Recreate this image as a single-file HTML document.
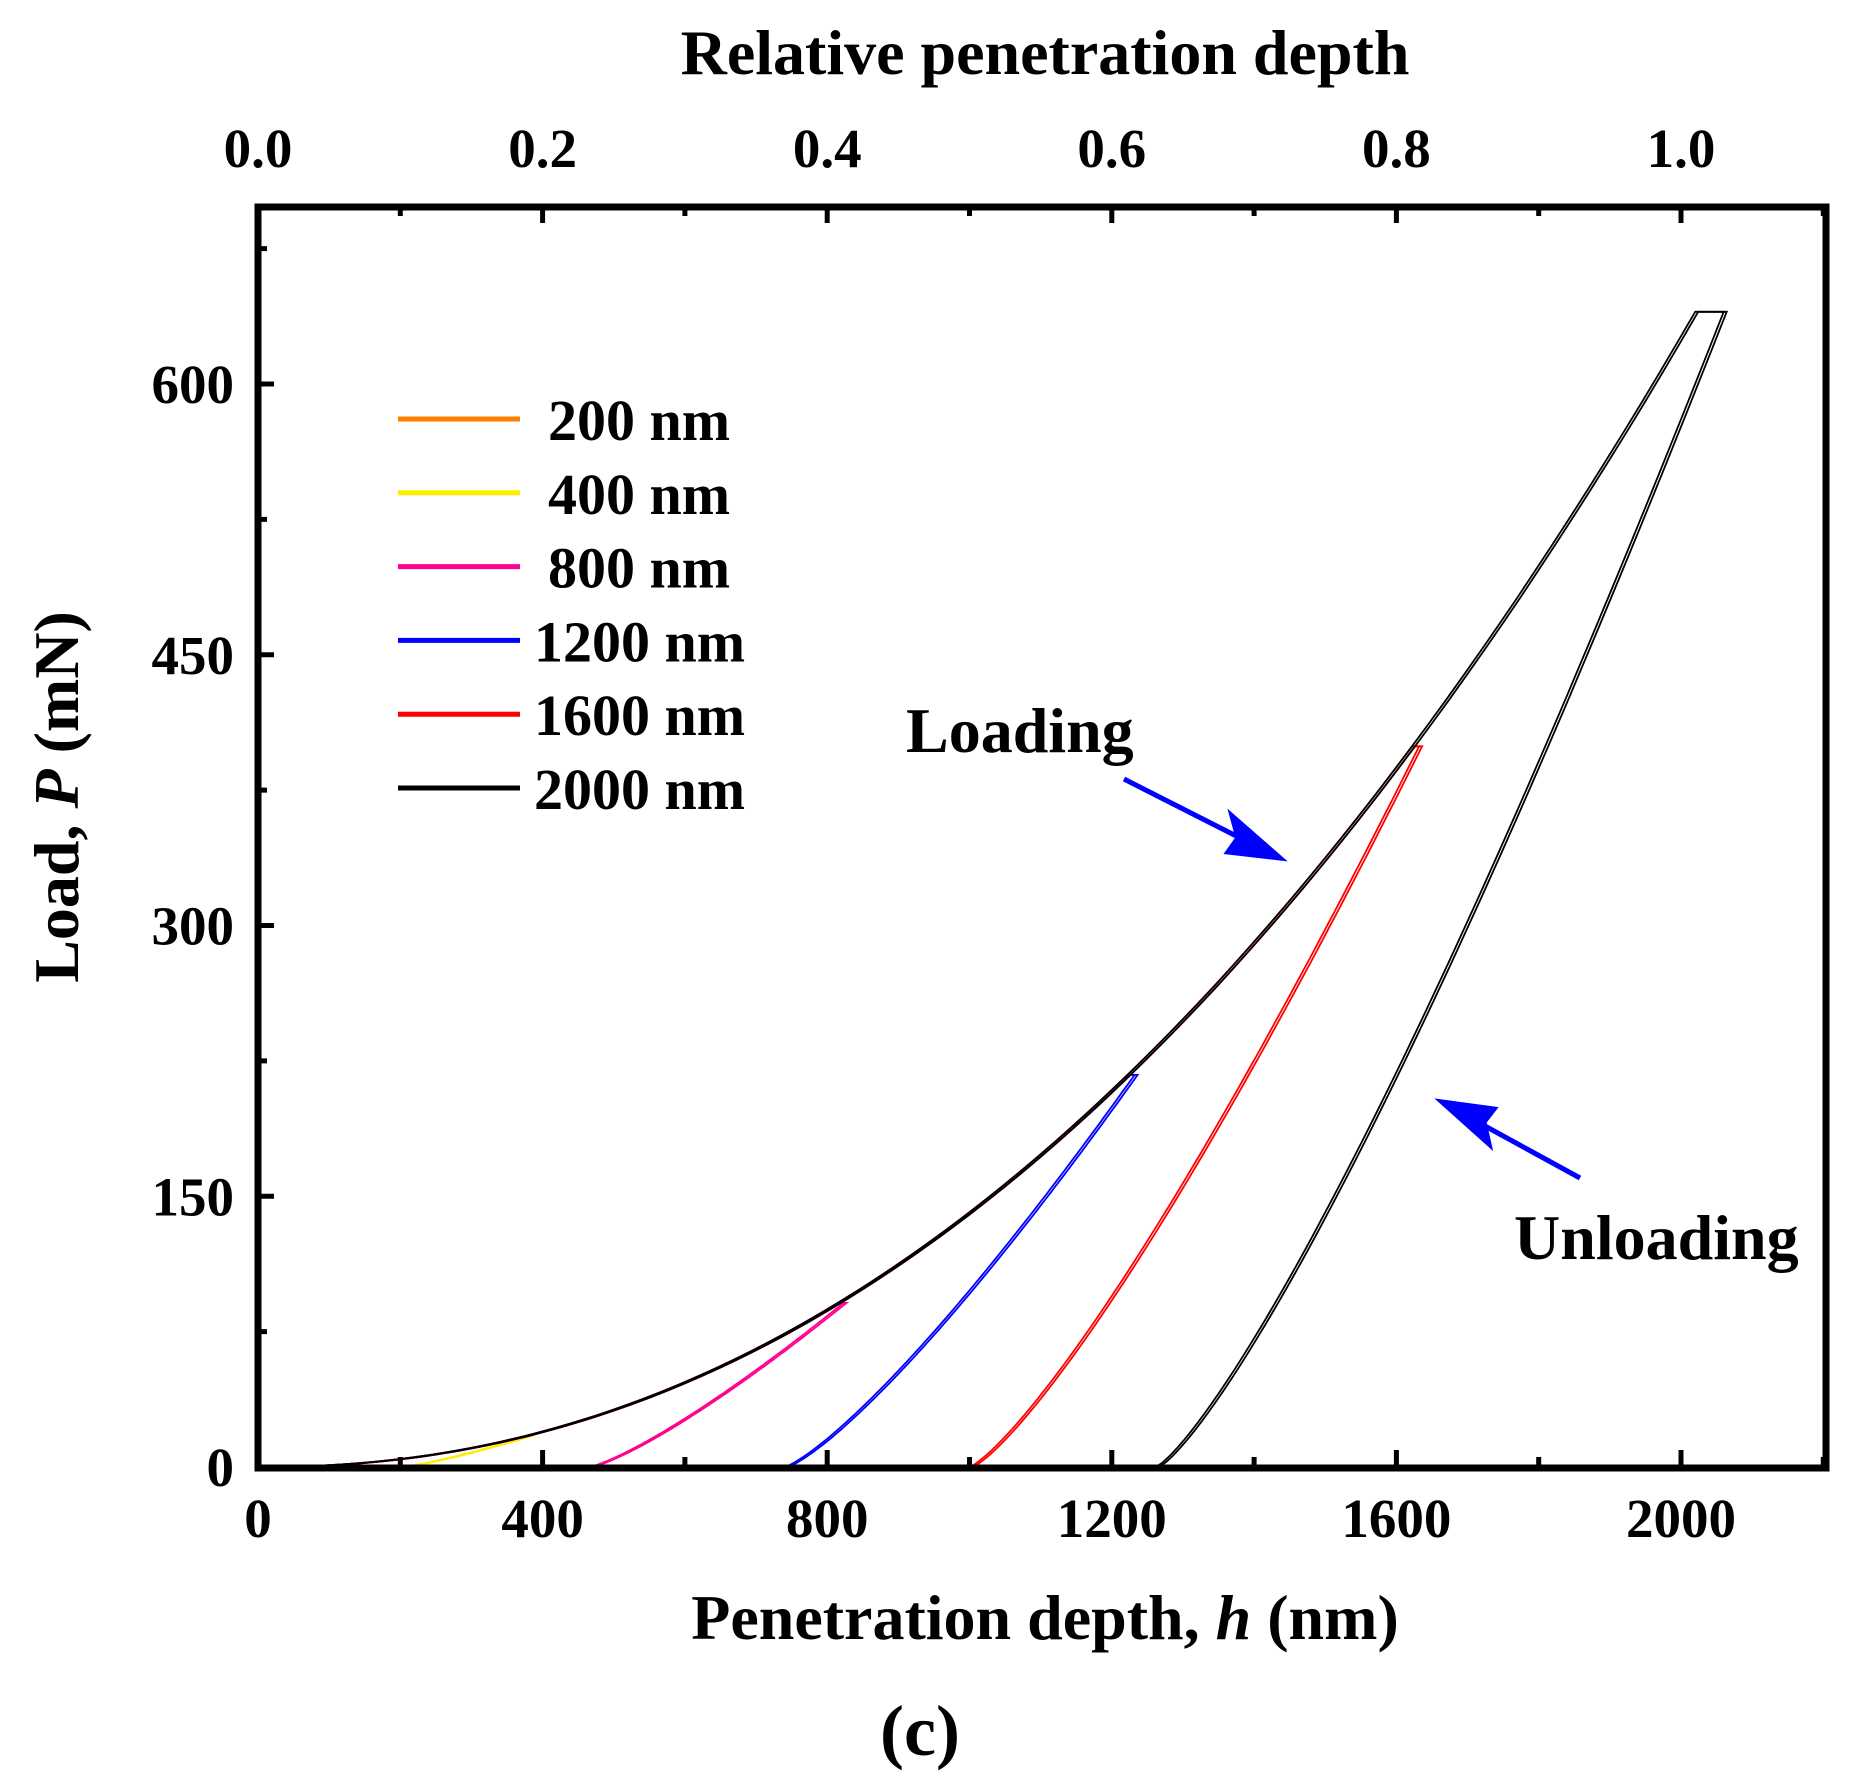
<!DOCTYPE html>
<html><head><meta charset="utf-8"><style>
body{margin:0;background:#fff}
text{font-family:"Liberation Serif",serif;font-weight:bold;fill:#000}
</style></head><body>
<svg id="s" width="1862" height="1778" viewBox="0 0 1862 1778" xmlns="http://www.w3.org/2000/svg">
<rect width="1862" height="1778" fill="#fff"/>
<g id="curves" fill="none" stroke-width="1.8"></g>
<rect x="258" y="207" width="1568" height="1261" fill="none" stroke="#000" stroke-width="7"/>
<g id="ticks" stroke="#000" stroke-width="5"></g>
<g id="labels" font-size="55"></g>
<text x="1045" y="74" font-size="64" text-anchor="middle">Relative penetration depth</text>
<text x="1045" y="1639" font-size="64" text-anchor="middle">Penetration depth, <tspan font-style="italic">h</tspan> (nm)</text>
<text transform="translate(78,797) rotate(-90)" font-size="64" text-anchor="middle">Load, <tspan font-style="italic">P</tspan> (mN)</text>
<text x="920" y="1755" font-size="72" text-anchor="middle">(c)</text>
<text x="906" y="752" font-size="64">Loading</text>
<text x="1514" y="1259" font-size="64">Unloading</text>
<g stroke="#0000ff" stroke-width="5" fill="#0000ff">
<line x1="1124" y1="779" x2="1258" y2="847"/>
<polygon points="1280,858 1228,852 1238,838 1232,816"/>
<line x1="1580" y1="1178" x2="1463" y2="1114"/>
<polygon points="1442,1102 1494,1109 1484,1122 1489,1144"/>
</g>
<g id="legend" font-size="58"></g>
</svg>
<script>
var NS="http://www.w3.org/2000/svg";
function X(h){return 258+h*0.7115}
function Y(p){return 1467-p*1.805}
function el(par,tag,a,txt){var e=document.createElementNS(NS,tag);for(var k in a)e.setAttribute(k,a[k]);if(txt)e.textContent=txt;document.getElementById(par).appendChild(e);return e}
for(var h=0;h<=2200;h+=200){var x=X(h),maj=h%400==0;
el("ticks","line",{x1:x,y1:1466,x2:x,y2:1466-(maj?16:9)});
el("ticks","line",{x1:x,y1:207,x2:x,y2:207+(maj?16:9)});
if(maj){el("labels","text",{x:x,y:1537,"text-anchor":"middle"},String(h));
el("labels","text",{x:x,y:167,"text-anchor":"middle"},(h/2000).toFixed(1));}}
for(var p=0;p<=700;p+=75){var y=Y(p),maj=p%150==0;
el("ticks","line",{x1:258,y1:y,x2:258+(maj?16:9),y2:y});
if(maj)el("labels","text",{x:234,y:y+19,"text-anchor":"end"},String(p));}
function load(h){return 640*Math.pow(h/2020,2.15)}
function path(col,hmax,hf,hold){
var d="",n=80,h0=20;
for(var i=0;i<=n;i++){var h=h0+(hmax-h0)*i/n;d+=(i?"L":"M")+X(h).toFixed(1)+","+Y(load(h)).toFixed(1)}
var pm=load(hmax),he=hmax+hold;
d+="L"+X(he).toFixed(1)+","+Y(pm).toFixed(1);
for(var i=1;i<=n;i++){var t=1-i/n;var h=hf+(he-hf)*t;d+="L"+X(h).toFixed(1)+","+Y(pm*Math.pow(t,1.25)).toFixed(1)}
el("curves","path",{d:d,stroke:col});
el("curves","path",{d:d,stroke:col,transform:"translate(3,0)"});}
path("#ff8000",100,80,3);
path("#ffee00",380,200,5);
path("#ff0090",815,465,8);
path("#0000ff",1222,740,10);
path("#ff0000",1622,1000,10);
path("#000000",2020,1262,40);
var L=[["200 nm","#ff8000",548],["400 nm","#ffee00",548],["800 nm","#ff0090",548],["1200 nm","#0000ff",534],["1600 nm","#ff0000",534],["2000 nm","#000",534]];
for(var i=0;i<6;i++){var y=419+i*73.8;
el("legend","line",{x1:398,y1:y,x2:520,y2:y,stroke:L[i][1],"stroke-width":5});
el("legend","text",{x:L[i][2],y:y+21},L[i][0]);}
</script>
</body></html>
